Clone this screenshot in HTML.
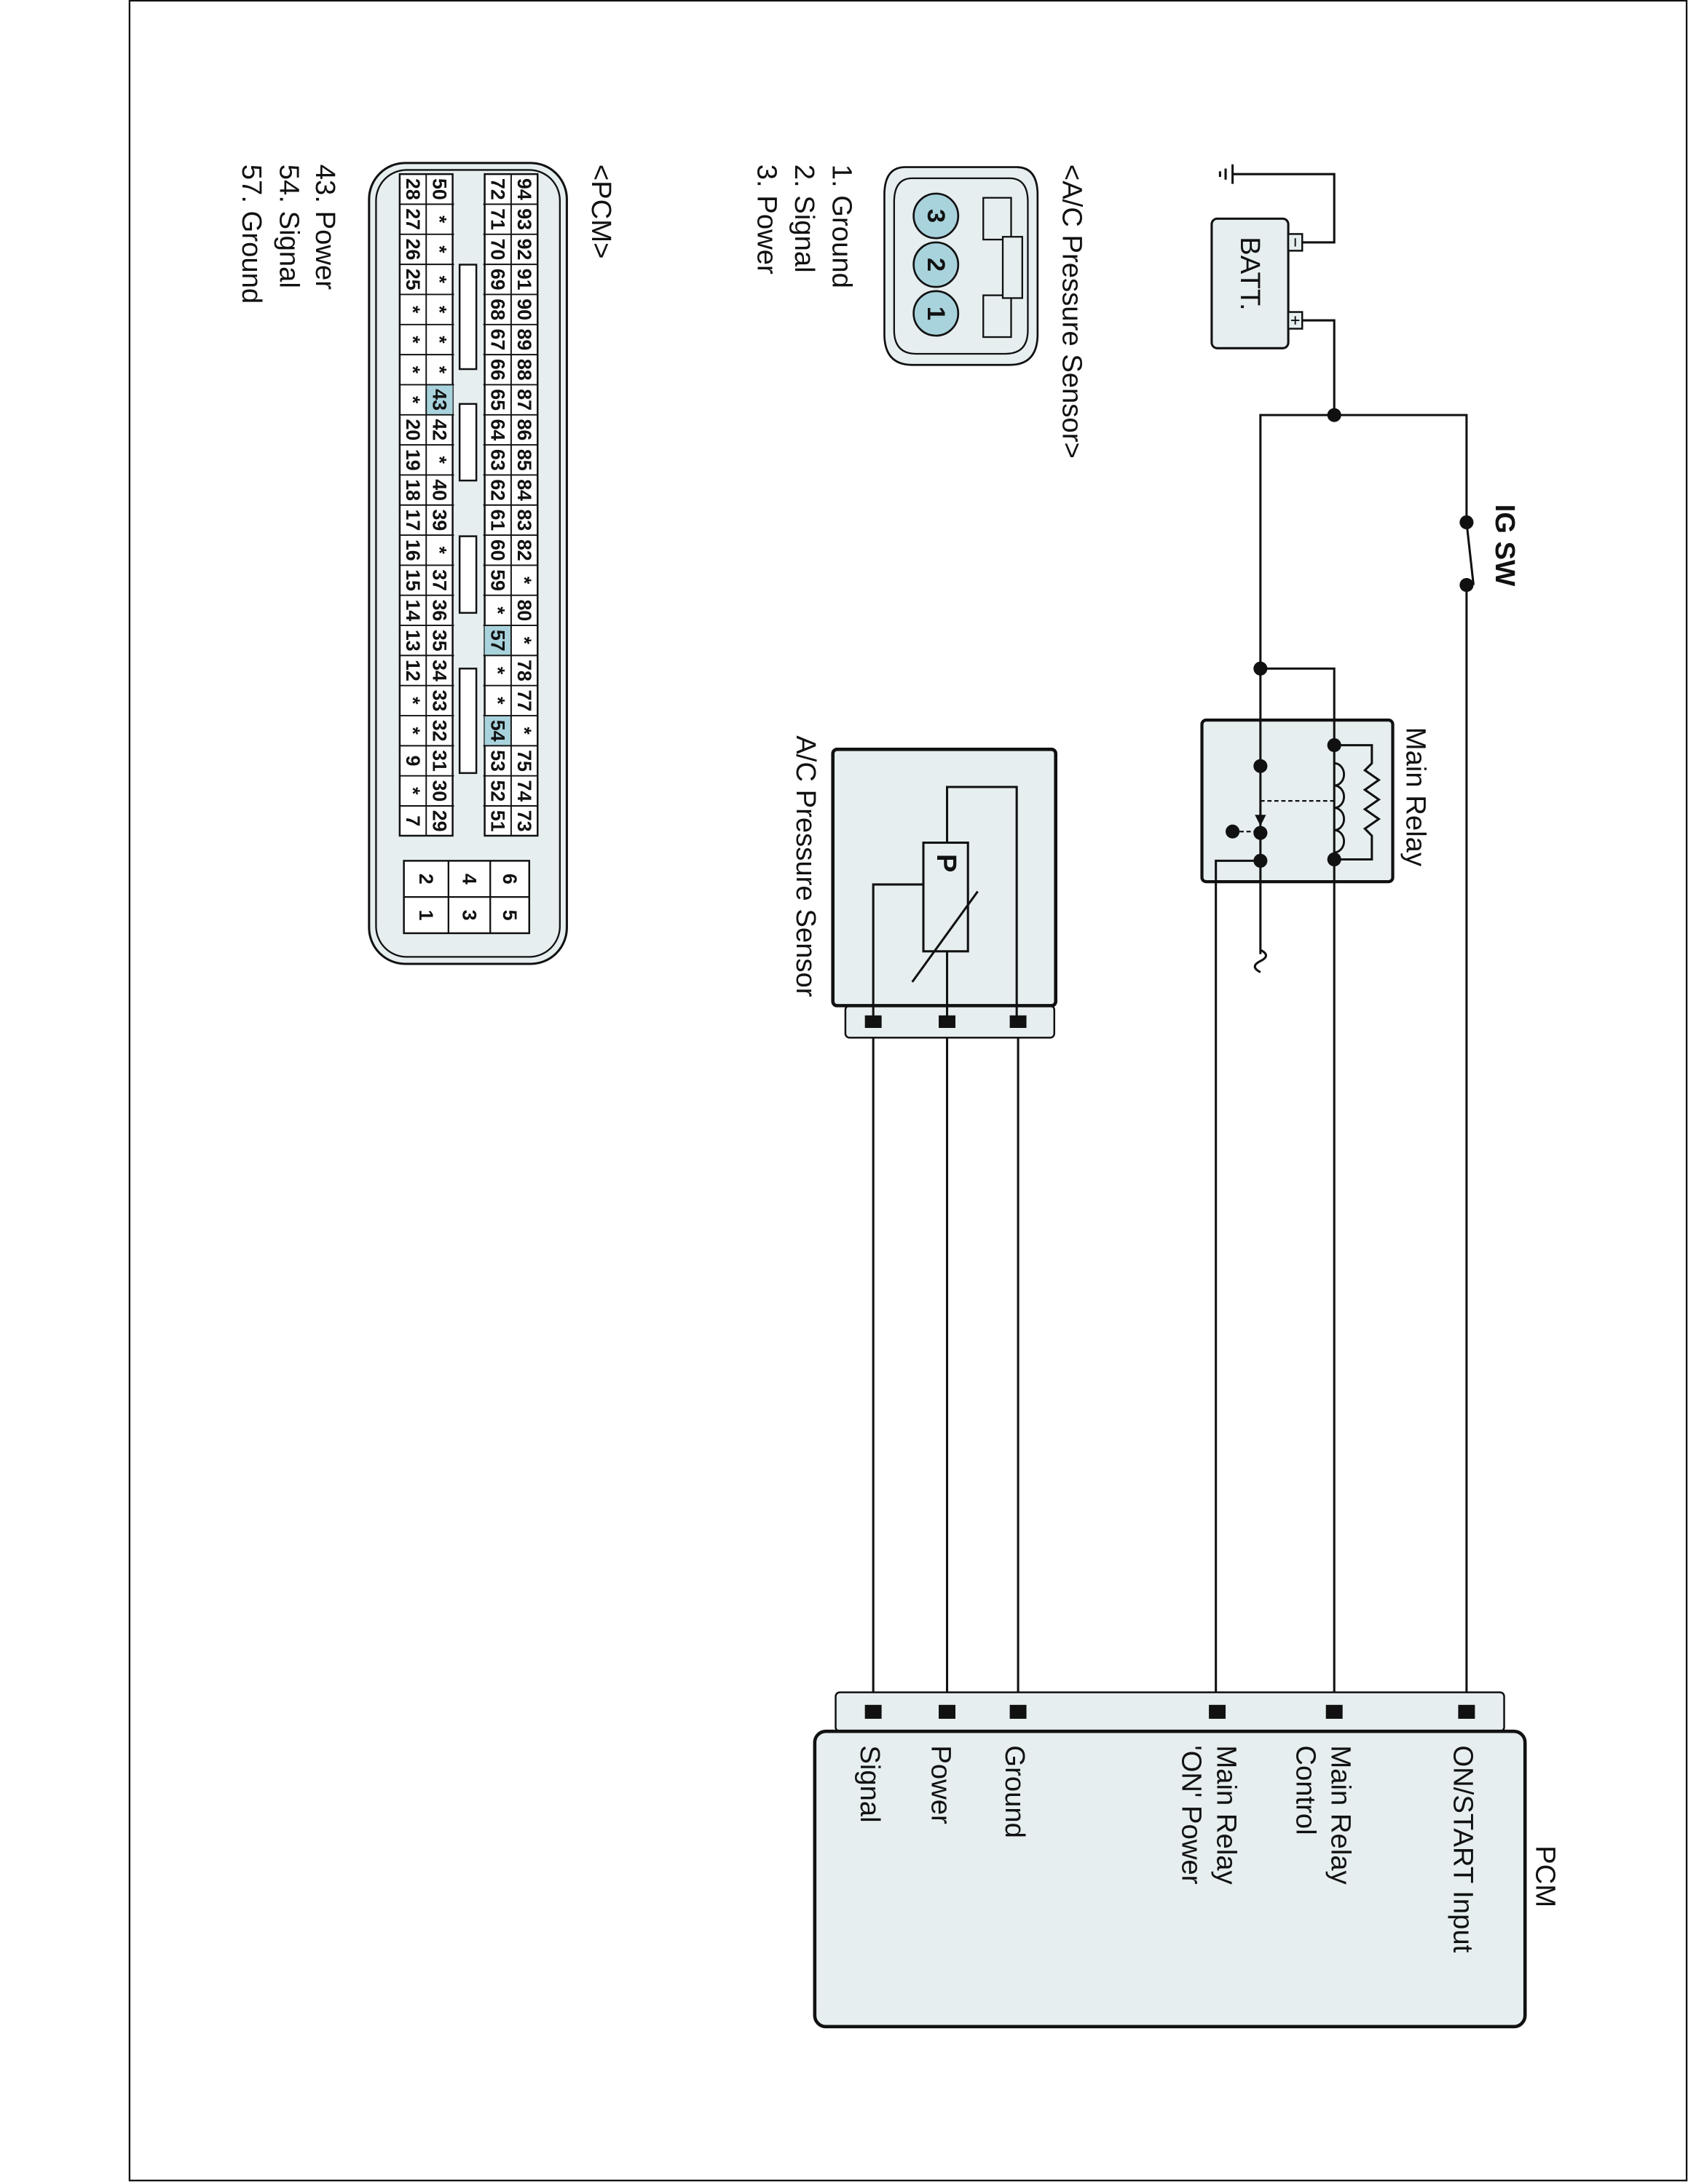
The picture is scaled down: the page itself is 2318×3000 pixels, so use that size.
<!DOCTYPE html>
<html><head><meta charset="utf-8"><style>
html,body{margin:0;padding:0;background:#fff}
svg{display:block}
text{font-family:"Liberation Sans",Arial,sans-serif;fill:#111}
.c text{font-size:14px;font-weight:bold;text-anchor:middle;dominant-baseline:central}
</style></head><body>
<svg width="2318" height="3000" viewBox="0 0 1212 1568" preserveAspectRatio="none" xmlns="http://www.w3.org/2000/svg">
<rect x="93" y="0.5" width="1118" height="1565" fill="#fff" stroke="#111" stroke-width="1.2"/>
<!-- relay box (behind wires) -->
<rect x="863" y="517" width="137" height="116" rx="3" fill="#e6eef0" stroke="#111" stroke-width="2.2"/>
<g stroke="#111" stroke-width="1.6" fill="none">
<polyline points="935,174 958,174 958,125 885,125"/>
<line x1="885" y1="118" x2="885" y2="132"/>
<line x1="880" y1="121" x2="880" y2="129"/>
<line x1="876" y1="123" x2="876" y2="127"/>
<polyline points="935,230 958,230 958,298"/>
<polyline points="905,685 905,298 1053,298 1053,375"/>
<line x1="1053" y1="375" x2="1058" y2="420"/>
<line x1="1053" y1="420" x2="1053" y2="1229"/>
<polyline points="905,480 958,480 958,1229"/>
<polyline points="905,618 873,618 873,1229"/>
<polyline points="958,535 985,535 985,548 980,553 990,560 980,567 990,574 980,581 990,588 980,595 985,600 985,617 958,617"/>
<path d="M958,548 a7,8 0 0 1 0,16 a7,8 0 0 1 0,16 a7,8 0 0 1 0,16 a7,8 0 0 1 0,16" stroke-width="1.5"/>
<line x1="905" y1="575" x2="958" y2="575" stroke-dasharray="3,2" stroke-width="1.2"/>
<line x1="885" y1="597" x2="903" y2="597" stroke-dasharray="3,2" stroke-width="1.2"/>
<path d="M897,690 q4,-8 8,0 t8,0" transform="rotate(90 905 690)"/>
<line x1="627" y1="733" x2="627" y2="1229"/>
<line x1="680" y1="733" x2="680" y2="1229"/>
<line x1="731" y1="733" x2="731" y2="1229"/>
</g>
<polygon points="901,585 909,585 905,593" fill="#111"/>
<!-- battery -->
<rect x="870" y="157" width="55" height="93" rx="4" fill="#e6eef0" stroke="#111" stroke-width="1.6"/>
<rect x="925" y="168" width="10" height="12" fill="#e6eef0" stroke="#111" stroke-width="1.3"/>
<rect x="925" y="224" width="10" height="12" fill="#e6eef0" stroke="#111" stroke-width="1.3"/>
<line x1="930" y1="171" x2="930" y2="177" stroke="#111"/>
<line x1="930" y1="227" x2="930" y2="233" stroke="#111"/><line x1="927" y1="230" x2="933" y2="230" stroke="#111"/>
<text transform="translate(891,170) rotate(90)" font-size="20">BATT.</text>
<g fill="#111">
<circle cx="958" cy="298" r="5"/><circle cx="1053" cy="375" r="5"/><circle cx="1053" cy="420" r="5"/>
<circle cx="905" cy="480" r="5"/><circle cx="958" cy="535" r="5"/><circle cx="958" cy="617" r="5"/>
<circle cx="905" cy="550" r="5"/><circle cx="905" cy="598" r="5"/><circle cx="905" cy="618" r="5"/><circle cx="885" cy="597" r="5"/>
</g>
<text transform="translate(1010,522) rotate(90)" font-size="20">Main Relay</text>
<text transform="translate(1074,362) rotate(90)" font-size="20" font-weight="bold">IG SW</text>
<!-- sensor -->
<rect x="607" y="722" width="150" height="23" rx="3" fill="#e6eef0" stroke="#111" stroke-width="1.3"/>
<rect x="598" y="538" width="160" height="184" rx="3" fill="#e6eef0" stroke="#111" stroke-width="2.4"/>
<g stroke="#111" stroke-width="1.6" fill="none">
<polyline points="730,735 730,565 680,565 680,605"/>
<line x1="680" y1="683" x2="680" y2="735"/>
<polyline points="627,735 627,635 663,635"/>
<rect x="663" y="605" width="32" height="78" fill="#e6eef0"/>
<line x1="655" y1="705" x2="702" y2="640"/>
</g>
<text transform="translate(673,613) rotate(90)" font-size="20" font-weight="bold">P</text>
<g fill="#111"><rect x="621" y="729" width="12" height="9"/><rect x="674" y="729" width="12" height="9"/><rect x="725" y="729" width="12" height="9"/></g>
<text transform="translate(572,528) rotate(90)" font-size="20">A/C Pressure Sensor</text>
<!-- PCM -->
<rect x="600" y="1215" width="480" height="28" rx="3" fill="#e6eef0" stroke="#111" stroke-width="1.3"/>
<rect x="585" y="1243" width="510" height="212" rx="8" fill="#e6eef0" stroke="#111" stroke-width="2.4"/>
<g fill="#111"><rect x="621" y="1224" width="12" height="10"/><rect x="674" y="1224" width="12" height="10"/><rect x="725" y="1224" width="12" height="10"/><rect x="868" y="1224" width="12" height="10"/><rect x="952" y="1224" width="12" height="10"/><rect x="1047" y="1224" width="12" height="10"/></g>
<g font-size="20">
<text transform="translate(1103,1325) rotate(90)">PCM</text>
<text transform="translate(1044,1253) rotate(90)">ON/START Input</text>
<text transform="translate(956,1253) rotate(90)">Main Relay</text>
<text transform="translate(931,1253) rotate(90)">Control</text>
<text transform="translate(874,1253) rotate(90)">Main Relay</text>
<text transform="translate(849,1253) rotate(90)">'ON' Power</text>
<text transform="translate(722,1253) rotate(90)">Ground</text>
<text transform="translate(669,1253) rotate(90)">Power</text>
<text transform="translate(618,1253) rotate(90)">Signal</text>
<text transform="translate(763,118) rotate(90)">&lt;A/C Pressure Sensor&gt;</text>
<text transform="translate(598,118) rotate(90)">1. Ground</text>
<text transform="translate(571,118) rotate(90)">2. Signal</text>
<text transform="translate(544,118) rotate(90)">3. Power</text>
<text transform="translate(425,118) rotate(90)">&lt;PCM&gt;</text>
<text transform="translate(227,118) rotate(90)">43. Power</text>
<text transform="translate(201,118) rotate(90)">54. Signal</text>
<text transform="translate(174,118) rotate(90)">57. Ground</text>
</g>
<!-- A/C connector view -->
<path d="M650,120 L730,120 Q745,120 745,140 L745,240 Q745,262 725,262 L655,262 Q635,262 635,240 L635,140 Q635,120 650,120 Z" fill="#e6eef0" stroke="#111" stroke-width="1.4"/>
<path d="M655,128 L725,128 Q738,128 738,145 L738,237 Q738,254 722,254 L658,254 Q642,254 642,237 L642,145 Q642,128 655,128 Z" fill="none" stroke="#111" stroke-width="1.2"/>
<g fill="#e6eef0" stroke="#111" stroke-width="1.2">
<rect x="706" y="142" width="20" height="30"/><rect x="706" y="212" width="20" height="30"/><rect x="720" y="170" width="14" height="44"/>
</g>
<g fill="#a9d3dc" stroke="#111" stroke-width="1.4">
<circle cx="672" cy="155" r="16"/><circle cx="672" cy="190" r="16"/><circle cx="672" cy="225" r="16"/>
</g>
<g font-size="18" font-weight="bold" text-anchor="middle" dominant-baseline="central">
<text transform="translate(672,155) rotate(90)">3</text><text transform="translate(672,190) rotate(90)">2</text><text transform="translate(672,225) rotate(90)">1</text>
</g>
<!-- PCM connector view -->
<rect x="265" y="117" width="142" height="575" rx="26" fill="#e6eef0" stroke="#111" stroke-width="1.6"/>
<rect x="270" y="122" width="132" height="565" rx="22" fill="none" stroke="#111" stroke-width="1.2"/>
<g fill="#fff" stroke="#111" stroke-width="1.3">
<rect x="348" y="125" width="38" height="475"/>
<rect x="287" y="125" width="38" height="475"/>
</g>
<g fill="#a9d3dc"><rect x="306" y="276.2" width="19" height="21.6"/><rect x="348" y="449" width="19" height="21.6"/><rect x="348" y="513.8" width="19" height="21.6"/></g>
<g stroke="#111" stroke-width="1">
<line x1="367" y1="125" x2="367" y2="600"/><line x1="306" y1="125" x2="306" y2="600"/>
<path d="M287,146.6H386M287,168.2H386M287,189.8H386M287,211.4H386M287,233H386M287,254.6H386M287,276.2H386M287,297.8H386M287,319.4H386M287,341H386M287,362.6H386M287,384.2H386M287,405.8H386M287,427.4H386M287,449H386M287,470.6H386M287,492.2H386M287,513.8H386M287,535.4H386M287,557H386M287,578.6H386"/>
</g>
<rect x="326" y="146" width="21" height="454" fill="#e6eef0"/>
<g fill="#fff" stroke="#111" stroke-width="1.3">
<rect x="330" y="190" width="12" height="75"/><rect x="330" y="290" width="12" height="55"/><rect x="330" y="385" width="12" height="55"/><rect x="330" y="480" width="12" height="75"/>
<rect x="290" y="618" width="90" height="52"/>
</g>
<g stroke="#111" stroke-width="1.2"><line x1="290" y1="644" x2="380" y2="644"/><line x1="322" y1="618" x2="322" y2="670"/><line x1="352" y1="618" x2="352" y2="670"/></g>
<g class="c">
<text transform="translate(366,631) rotate(90)">6</text><text transform="translate(366,657) rotate(90)">5</text>
<text transform="translate(337,631) rotate(90)">4</text><text transform="translate(337,657) rotate(90)">3</text>
<text transform="translate(306,631) rotate(90)">2</text><text transform="translate(306,657) rotate(90)">1</text>
</g>
<g class="c">
<text transform="translate(376.5,135.8) rotate(90)">94</text><text transform="translate(376.5,157.4) rotate(90)">93</text><text transform="translate(376.5,179) rotate(90)">92</text><text transform="translate(376.5,200.6) rotate(90)">91</text><text transform="translate(376.5,222.2) rotate(90)">90</text><text transform="translate(376.5,243.8) rotate(90)">89</text><text transform="translate(376.5,265.4) rotate(90)">88</text><text transform="translate(376.5,287) rotate(90)">87</text><text transform="translate(376.5,308.6) rotate(90)">86</text><text transform="translate(376.5,330.2) rotate(90)">85</text><text transform="translate(376.5,351.8) rotate(90)">84</text><text transform="translate(376.5,373.4) rotate(90)">83</text><text transform="translate(376.5,395) rotate(90)">82</text><text transform="translate(376.5,416.6) rotate(90)">*</text><text transform="translate(376.5,438.2) rotate(90)">80</text><text transform="translate(376.5,459.8) rotate(90)">*</text><text transform="translate(376.5,481.4) rotate(90)">78</text><text transform="translate(376.5,503) rotate(90)">77</text><text transform="translate(376.5,524.6) rotate(90)">*</text><text transform="translate(376.5,546.2) rotate(90)">75</text><text transform="translate(376.5,567.8) rotate(90)">74</text><text transform="translate(376.5,589.4) rotate(90)">73</text>
<text transform="translate(357.5,135.8) rotate(90)">72</text><text transform="translate(357.5,157.4) rotate(90)">71</text><text transform="translate(357.5,179) rotate(90)">70</text><text transform="translate(357.5,200.6) rotate(90)">69</text><text transform="translate(357.5,222.2) rotate(90)">68</text><text transform="translate(357.5,243.8) rotate(90)">67</text><text transform="translate(357.5,265.4) rotate(90)">66</text><text transform="translate(357.5,287) rotate(90)">65</text><text transform="translate(357.5,308.6) rotate(90)">64</text><text transform="translate(357.5,330.2) rotate(90)">63</text><text transform="translate(357.5,351.8) rotate(90)">62</text><text transform="translate(357.5,373.4) rotate(90)">61</text><text transform="translate(357.5,395) rotate(90)">60</text><text transform="translate(357.5,416.6) rotate(90)">59</text><text transform="translate(357.5,438.2) rotate(90)">*</text><text transform="translate(357.5,459.8) rotate(90)">57</text><text transform="translate(357.5,481.4) rotate(90)">*</text><text transform="translate(357.5,503) rotate(90)">*</text><text transform="translate(357.5,524.6) rotate(90)">54</text><text transform="translate(357.5,546.2) rotate(90)">53</text><text transform="translate(357.5,567.8) rotate(90)">52</text><text transform="translate(357.5,589.4) rotate(90)">51</text>
<text transform="translate(315.5,135.8) rotate(90)">50</text><text transform="translate(315.5,157.4) rotate(90)">*</text><text transform="translate(315.5,179) rotate(90)">*</text><text transform="translate(315.5,200.6) rotate(90)">*</text><text transform="translate(315.5,222.2) rotate(90)">*</text><text transform="translate(315.5,243.8) rotate(90)">*</text><text transform="translate(315.5,265.4) rotate(90)">*</text><text transform="translate(315.5,287) rotate(90)">43</text><text transform="translate(315.5,308.6) rotate(90)">42</text><text transform="translate(315.5,330.2) rotate(90)">*</text><text transform="translate(315.5,351.8) rotate(90)">40</text><text transform="translate(315.5,373.4) rotate(90)">39</text><text transform="translate(315.5,395) rotate(90)">*</text><text transform="translate(315.5,416.6) rotate(90)">37</text><text transform="translate(315.5,438.2) rotate(90)">36</text><text transform="translate(315.5,459.8) rotate(90)">35</text><text transform="translate(315.5,481.4) rotate(90)">34</text><text transform="translate(315.5,503) rotate(90)">33</text><text transform="translate(315.5,524.6) rotate(90)">32</text><text transform="translate(315.5,546.2) rotate(90)">31</text><text transform="translate(315.5,567.8) rotate(90)">30</text><text transform="translate(315.5,589.4) rotate(90)">29</text>
<text transform="translate(296.5,135.8) rotate(90)">28</text><text transform="translate(296.5,157.4) rotate(90)">27</text><text transform="translate(296.5,179) rotate(90)">26</text><text transform="translate(296.5,200.6) rotate(90)">25</text><text transform="translate(296.5,222.2) rotate(90)">*</text><text transform="translate(296.5,243.8) rotate(90)">*</text><text transform="translate(296.5,265.4) rotate(90)">*</text><text transform="translate(296.5,287) rotate(90)">*</text><text transform="translate(296.5,308.6) rotate(90)">20</text><text transform="translate(296.5,330.2) rotate(90)">19</text><text transform="translate(296.5,351.8) rotate(90)">18</text><text transform="translate(296.5,373.4) rotate(90)">17</text><text transform="translate(296.5,395) rotate(90)">16</text><text transform="translate(296.5,416.6) rotate(90)">15</text><text transform="translate(296.5,438.2) rotate(90)">14</text><text transform="translate(296.5,459.8) rotate(90)">13</text><text transform="translate(296.5,481.4) rotate(90)">12</text><text transform="translate(296.5,503) rotate(90)">*</text><text transform="translate(296.5,524.6) rotate(90)">*</text><text transform="translate(296.5,546.2) rotate(90)">9</text><text transform="translate(296.5,567.8) rotate(90)">*</text><text transform="translate(296.5,589.4) rotate(90)">7</text>
</g>
</svg>
</body></html>
